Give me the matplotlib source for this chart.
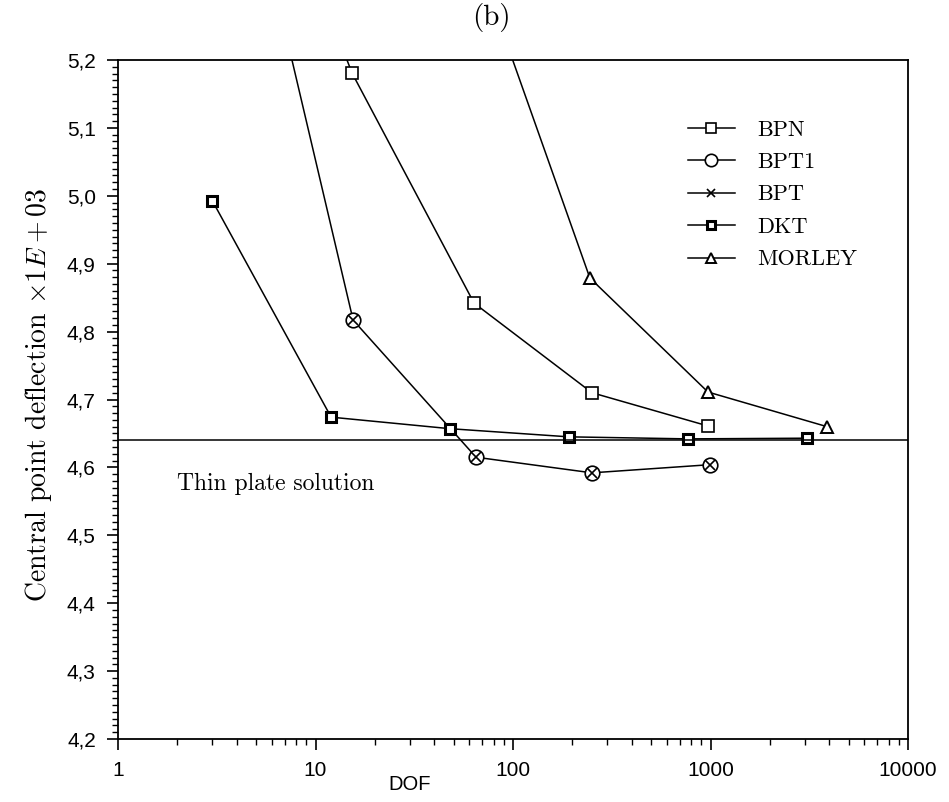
import matplotlib.pyplot as plt
from matplotlib.ticker import MultipleLocator, LogLocator, NullFormatter

plt.rcParams["mathtext.fontset"] = "cm"

# data (DOF, deflection x1E+03)
bpn_dof = [4, 15.3, 63.5, 251, 971]
bpn_w = [5.62, 5.181, 4.842, 4.710, 4.661]

bpt1_dof = [4, 15.5, 65, 251, 994]
bpt1_w = [5.545, 4.817, 4.615, 4.592, 4.604]

bpt_dof = bpt1_dof
bpt_w = bpt1_w

dkt_dof = [3, 12, 48, 192, 768, 3072]
dkt_w = [4.993, 4.674, 4.657, 4.645, 4.642, 4.643]

morley_dof = [61, 245, 971, 3890]
morley_w = [5.375, 4.879, 4.711, 4.660]

thin_plate = 4.640

xticks = [1, 10, 100, 1000, 10000]
xtick_labels = ["1", "10", "100", "1000", "10000"]
yticks = [4.2, 4.3, 4.4, 4.5, 4.6, 4.7, 4.8, 4.9, 5.0, 5.1, 5.2]
ytick_labels = ["4,2", "4,3", "4,4", "4,5", "4,6", "4,7", "4,8", "4,9", "5,0", "5,1", "5,2"]

fig = plt.figure(figsize=(9.49, 8.02), dpi=100)
ax = fig.add_axes([118 / 949, 63 / 802, 790 / 949, 679 / 802])

ax.plot(bpn_dof, bpn_w, color="black", lw=1.1, marker="s", ms=8,
        mfc="white", mec="black", mew=1.2, label="BPN")
ax.plot(bpt1_dof, bpt1_w, color="black", lw=1.1, marker="o", ms=10.5,
        mfc="white", mec="black", mew=1.2, label="BPT1")
ax.plot(bpt_dof, bpt_w, color="black", lw=0, marker="x", ms=7,
        mec="black", mew=1.2, label="BPT")
ax.plot(dkt_dof, dkt_w, color="black", lw=1.1, marker="s", ms=6.5,
        mfc="white", mec="black", mew=2.2, label="DKT")
ax.plot(morley_dof, morley_w, color="black", lw=1.1, marker="^", ms=8,
        mfc="white", mec="black", mew=1.4, label="MORLEY")

ax.axhline(thin_plate, color="black", lw=1.1)
ax.text(2.0, 4.575, "Thin plate solution", family="cmr10", fontsize=17,
        ha="left", va="center")

ax.set_xscale("log")
ax.set_xlim(1, 10000)
ax.set_ylim(4.2, 5.2)

ax.set_xticks(xticks)
ax.set_xticklabels(xtick_labels)
ax.xaxis.set_minor_locator(LogLocator(base=10, subs=range(2, 10)))
ax.xaxis.set_minor_formatter(NullFormatter())
ax.set_yticks(yticks)
ax.set_yticklabels(ytick_labels)
ax.yaxis.set_minor_locator(MultipleLocator(0.01))

for lab in ax.get_xticklabels() + ax.get_yticklabels():
    lab.set_family("Liberation Sans")
    lab.set_fontsize(15)

ax.tick_params(which="major", direction="out", length=8, width=1.2, pad=8)
ax.tick_params(which="minor", direction="out", length=4, width=1.0)
for sp in ax.spines.values():
    sp.set_linewidth(1.3)

fig.text(410 / 949, 1 - 785 / 802, "DOF", family="Liberation Sans",
         fontsize=14.5, ha="center", va="center")
fig.text(39 / 949, 1 - 395 / 802,
         r"Central point deflection $\times 1E + 03$",
         family="cmr10", fontsize=20, rotation=90, ha="center", va="center")
fig.text(491 / 949, 1 - 18 / 802, "(b)", family="cmr10", fontsize=21,
         ha="center", va="center")

leg = ax.legend(loc="upper left", bbox_to_anchor=(668 / 949, 1 - 100 / 802),
                bbox_transform=fig.transFigure, frameon=False,
                handlelength=2.1, labelspacing=0.58, handletextpad=1.0,
                prop={"family": "cmr10", "size": 16})
for h in leg.legend_handles:
    h.set_linewidth(1.1)
    h.set_markersize(h.get_markersize() * 0.85)

fig.savefig("out.png", dpi=100)
